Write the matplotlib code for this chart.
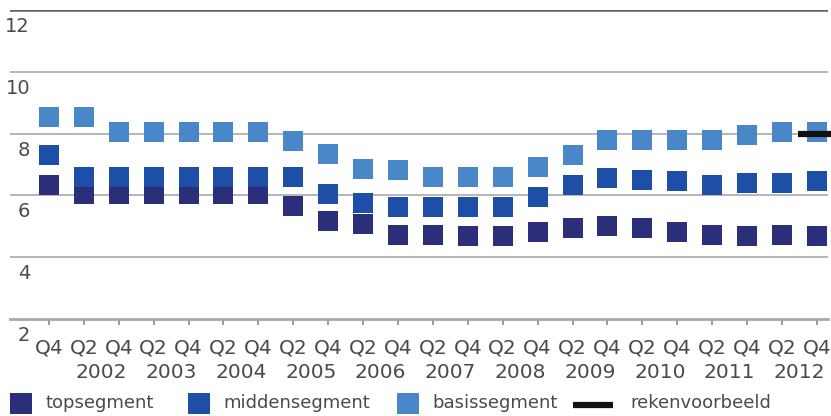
import matplotlib
matplotlib.use("Agg")
import matplotlib.pyplot as plt
from matplotlib.patches import Rectangle
from matplotlib.lines import Line2D

# Kwartalen Q4 2001 t/m Q4 2012
kwartalen = ['Q4'] + ['Q2', 'Q4'] * 11
jaren = ['2002', '2003', '2004', '2005', '2006', '2007',
         '2008', '2009', '2010', '2011', '2012']

topsegment = [6.33, 6.06, 6.06, 6.06, 6.06, 6.06, 6.06, 5.66, 5.18, 5.08, 4.71,
              4.72, 4.69, 4.69, 4.83, 4.94, 5.00, 4.93, 4.82, 4.71, 4.68, 4.71, 4.68]
middensegment = [7.32, 6.59, 6.59, 6.59, 6.59, 6.59, 6.59, 6.58, 6.06, 5.74, 5.64,
                 5.63, 5.63, 5.63, 5.95, 6.35, 6.57, 6.50, 6.46, 6.34, 6.39, 6.41, 6.46]
basissegment = [8.53, 8.53, 8.04, 8.04, 8.04, 8.04, 8.04, 7.77, 7.34, 6.86, 6.81,
                6.61, 6.61, 6.61, 6.93, 7.31, 7.80, 7.80, 7.80, 7.80, 7.95, 8.04, 8.04]
rekenvoorbeeld = 8.0

yticks = [2, 4, 6, 8, 10, 12]

kleur_top = '#2b2e78'
kleur_midden = '#1d4fa6'
kleur_basis = '#4a87c8'
kleur_tekst = '#4a4a4a'

W, H = 831, 416
fig = plt.figure(figsize=(W / 100, H / 100), dpi=100)
ax = fig.add_axes([10 / W, 97 / H, 818 / W, 309 / H])

x = list(range(len(kwartalen)))

# rasterlijnen
for v in yticks[1:-1]:
    ax.axhline(v, color='#b0b0b0', lw=1.3, zorder=1)
ax.axhline(12, color='#606060', lw=1.8, zorder=1)

ms = 15
ax.plot(x, topsegment, 's', color=kleur_top, ms=ms, mew=0, zorder=3)
ax.plot(x, middensegment, 's', color=kleur_midden, ms=ms, mew=0, zorder=4)
ax.plot(x, basissegment, 's', color=kleur_basis, ms=ms, mew=0, zorder=5)
ax.plot([x[-1] - 0.55, x[-1] + 0.5], [rekenvoorbeeld, rekenvoorbeeld],
        color='#111111', lw=4.5, solid_capstyle='butt', zorder=6, clip_on=False)

ax.set_xlim(-1.117, 22.32)
ax.set_ylim(2, 12)

for s in ['top', 'right', 'left']:
    ax.spines[s].set_visible(False)
ax.spines['bottom'].set_color('#a8a8a8')
ax.spines['bottom'].set_linewidth(2)

ax.set_xticks(x)
ax.set_xticklabels(kwartalen, fontsize=14.5, color=kleur_tekst)
ax.tick_params(axis='x', length=4, width=1.2, color='#8a8a8a', pad=10)
ax.set_yticks([])

# y-labels onder de rasterlijnen
for v in yticks:
    ax.annotate(str(v), xy=(20 / 818, v), xycoords=('axes fraction', 'data'),
                xytext=(0, -5), textcoords='offset points',
                ha='right', va='top', fontsize=14, color=kleur_tekst)

# jaartallen tussen Q2 en Q4
for k, jaar in enumerate(jaren):
    ax.annotate(jaar, xy=(1.5 + 2 * k, 0), xycoords=('data', 'axes fraction'),
                xytext=(0, -32), textcoords='offset points',
                ha='center', va='top', fontsize=14.5, color=kleur_tekst)

# legenda
legenda = [
    ('topsegment', kleur_top, 10, 45),
    ('middensegment', kleur_midden, 188, 223),
    ('basissegment', kleur_basis, 397, 432),
]
for naam, kleur, xs, xt in legenda:
    fig.add_artist(Rectangle((xs / W, 2 / H), 22 / W, 21 / H,
                             transform=fig.transFigure, color=kleur, lw=0))
    fig.text(xt / W, 8 / H, naam, fontsize=13, color=kleur_tekst,
             ha='left', va='baseline')
fig.add_artist(Line2D([573 / W, 613 / W], [11 / H, 11 / H],
                      transform=fig.transFigure, color='#111111', lw=4.5,
                      solid_capstyle='butt'))
fig.text(630 / W, 8 / H, 'rekenvoorbeeld', fontsize=13, color=kleur_tekst,
         ha='left', va='baseline')

fig.savefig('out.png', dpi=100)
